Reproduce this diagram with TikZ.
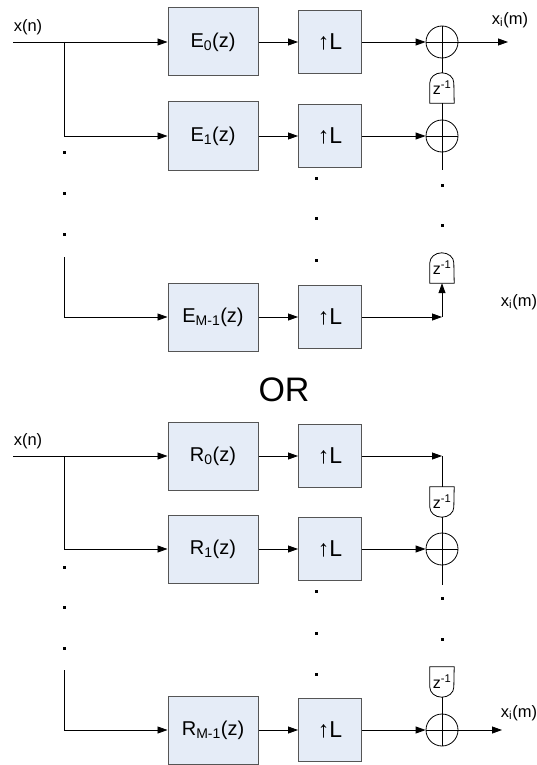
\documentclass[tikz,border=0pt]{standalone}
\usepackage{fontspec}
\setmainfont{Liberation Sans}
\usetikzlibrary{arrows.meta}
\definecolor{boxfill}{RGB}{229,236,247}
\definecolor{boxline}{RGB}{85,85,85}

\begin{document}
\begin{tikzpicture}[x=1pt, y=-1pt,
    filt/.style={draw=boxline, line width=1pt, fill=boxfill, minimum width=90pt,
                 minimum height=68pt, inner sep=0pt, font=\fontsize{20}{24}\selectfont},
    upl/.style={filt, minimum width=63pt, minimum height=63pt, font=\fontsize{23}{27}\selectfont},
    adder/.style={draw, circle, minimum size=32pt, inner sep=0pt, line width=0.8pt,
                  path picture={\draw[line width=0.8pt]
                    (path picture bounding box.north) -- (path picture bounding box.south)
                    (path picture bounding box.west) -- (path picture bounding box.east);}},
    delay/.style={minimum width=24pt, minimum height=30pt, inner sep=0pt,
                  font=\fontsize{16}{18}\selectfont},
    sig/.style={font=\fontsize{16.5}{19}\selectfont},
    wire/.style={line width=0.8pt},
    rel/.style={wire, -{Triangle[length=10pt,width=7pt]}}
]
    \useasboundingbox (0,0) rectangle (537,765);

    % polyphase form with E filters
    \node[sig] (xnA) at (28,27) {x(n)};
    \coordinate (inA) at (13,42);
    \coordinate (brA) at (64,42);
    \coordinate (brA1) at (64,136);
    \coordinate (brAM0) at (64,257);
    \coordinate (brAM) at (64,317);
    \node[filt] (E0) at (213,42) {E\textsubscript{0}(z)};
    \node[filt] (E1) at (213,136) {E\textsubscript{1}(z)};
    \node[filt] (EM) at (213,317) {E\textsubscript{M-1}(z)};
    \node[upl] (UA0) at (330,42) {↑L};
    \node[upl] (UA1) at (330,136) {↑L};
    \node[upl] (UAM) at (330,317) {↑L};
    \node[adder] (A0) at (442,42) {};
    \node[adder] (A1) at (442,136) {};
    \node[delay] (DA0) at (442,88) {z\textsuperscript{-1}};
    \node[delay] (DAM) at (442,268) {z\textsuperscript{-1}};
    \coordinate (cAM) at (442,317);
    \coordinate (outA) at (508,42);
    \node[sig] (xiA) at (510,20) {x\textsubscript{i}(m)};
    \node[sig] (xiAM) at (519,302) {x\textsubscript{i}(m)};

    \draw[wire] (DA0.south west) -- ([yshift=-10pt]DA0.north west)
        arc[start angle=180, end angle=0, x radius=12pt, y radius=10pt] -- (DA0.south east) -- cycle;
    \draw[wire] (DAM.south west) -- ([yshift=-10pt]DAM.north west)
        arc[start angle=180, end angle=0, x radius=12pt, y radius=10pt] -- (DAM.south east) -- cycle;

    \draw[wire] (inA) -- (brA);
    \draw[rel] (brA) -- (E0);
    \draw[rel] (brA) -- (brA1) -- (E1);
    \draw[rel] (brAM0) -- (brAM) -- (EM);
    \draw[rel] (E0) -- (UA0);
    \draw[rel] (E1) -- (UA1);
    \draw[rel] (EM) -- (UAM);
    \draw[rel] (UA0) -- (A0);
    \draw[rel] (UA1) -- (A1);
    \draw[rel] (A0) -- (outA);
    \draw[wire] (DA0) -- (A0);
    \draw[wire] (DA0) -- (A1);
    \draw[wire] (A1.south) -- ++(0,18);
    \draw[rel] (UAM) -- (cAM);
    \draw[rel] (cAM) -- (DAM);

    \foreach \y in {152,193,234} \fill (64,\y) ++(-1.5,-1.5) rectangle ++(3,3);
    \foreach \y in {178,218,260} \fill (316,\y) ++(-1.5,-1.5) rectangle ++(3,3);
    \foreach \y in {185,225} \fill (442,\y) ++(-1.5,-1.5) rectangle ++(3,3);

    \node[font=\fontsize{34}{38}\selectfont] (orword) at (284,390) {OR};

    % polyphase form with R filters
    \node[sig] (xnB) at (28,441) {x(n)};
    \coordinate (inB) at (13,456);
    \coordinate (brB) at (64,456);
    \coordinate (brB1) at (64,549);
    \coordinate (brBM0) at (64,670);
    \coordinate (brBM) at (64,730);
    \node[filt] (R0) at (213,456) {R\textsubscript{0}(z)};
    \node[filt] (R1) at (213,549) {R\textsubscript{1}(z)};
    \node[filt] (RM) at (213,730) {R\textsubscript{M-1}(z)};
    \node[upl] (UB0) at (330,456) {↑L};
    \node[upl] (UB1) at (330,549) {↑L};
    \node[upl] (UBM) at (330,730) {↑L};
    \coordinate (cB0) at (442,456);
    \node[delay] (DB0) at (442,502) {z\textsuperscript{-1}};
    \node[delay] (DBM) at (442,682) {z\textsuperscript{-1}};
    \node[adder] (B1) at (442,549) {};
    \node[adder] (BM) at (442,730) {};
    \coordinate (outB) at (502,730);
    \node[sig] (xiB) at (519,713) {x\textsubscript{i}(m)};

    \draw[wire] (DB0.north west) -- ([yshift=10pt]DB0.south west)
        arc[start angle=180, end angle=360, x radius=12pt, y radius=10pt] -- (DB0.north east) -- cycle;
    \draw[wire] (DBM.north west) -- ([yshift=10pt]DBM.south west)
        arc[start angle=180, end angle=360, x radius=12pt, y radius=10pt] -- (DBM.north east) -- cycle;

    \draw[wire] (inB) -- (brB);
    \draw[rel] (brB) -- (R0);
    \draw[rel] (brB) -- (brB1) -- (R1);
    \draw[rel] (brBM0) -- (brBM) -- (RM);
    \draw[rel] (R0) -- (UB0);
    \draw[rel] (R1) -- (UB1);
    \draw[rel] (RM) -- (UBM);
    \draw[rel] (UB0) -- (cB0);
    \draw[wire] (cB0) -- (DB0);
    \draw[wire] (DB0) -- (B1);
    \draw[rel] (UB1) -- (B1);
    \draw[wire] (B1.south) -- ++(0,20);
    \draw[wire] (DBM) -- (BM);
    \draw[rel] (UBM) -- (BM);
    \draw[rel] (BM) -- (outB);

    \foreach \y in {567,607,648} \fill (64,\y) ++(-1.5,-1.5) rectangle ++(3,3);
    \foreach \y in {591,633,674} \fill (316,\y) ++(-1.5,-1.5) rectangle ++(3,3);
    \foreach \y in {598,639} \fill (442,\y) ++(-1.5,-1.5) rectangle ++(3,3);
\end{tikzpicture}
\end{document}
